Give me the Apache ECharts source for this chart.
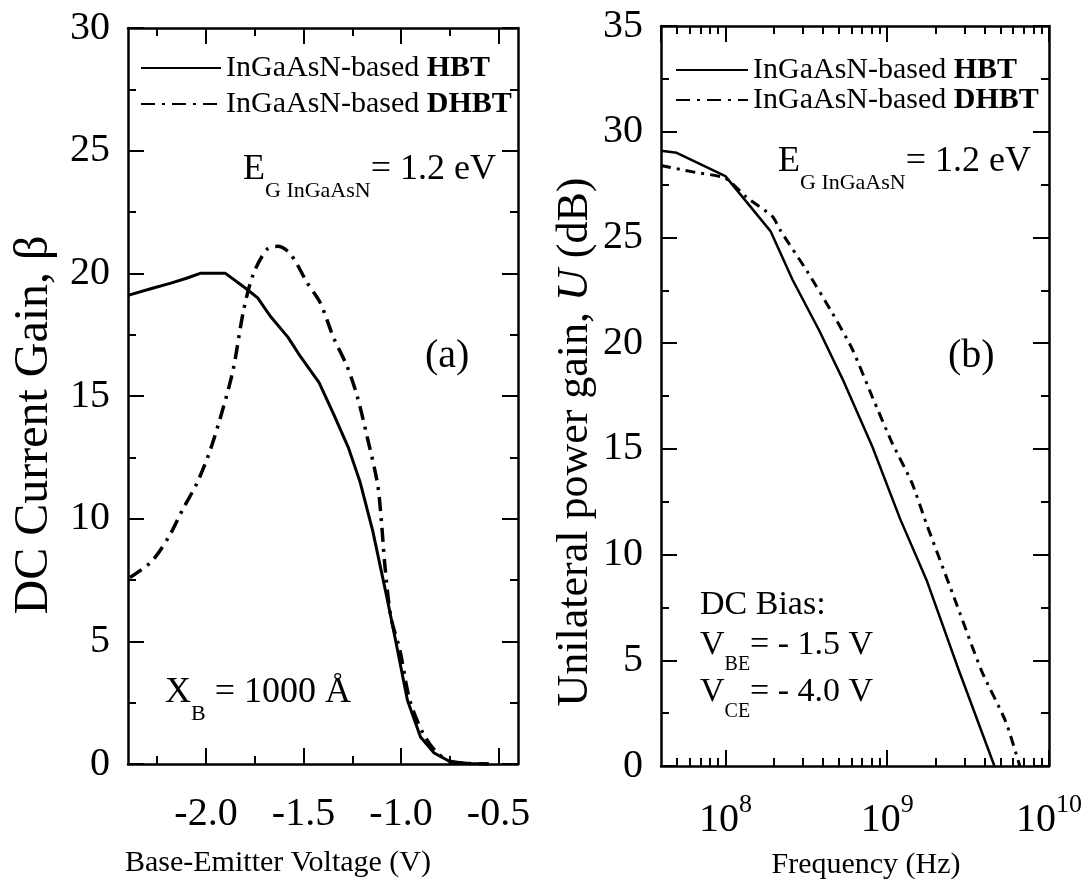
<!DOCTYPE html>
<html><head><meta charset="utf-8">
<script src="https://cdn.jsdelivr.net/npm/echarts@6/dist/echarts.min.js"></script>
<style>html,body{margin:0;padding:0;background:#fff}#c{width:1091px;height:890px}</style>
</head><body><div id="c"></div>
<script>
const FONT = '"Liberation Serif","Times New Roman",serif';

// ---- Panel (a): DC current gain vs base-emitter voltage ----
const voltHBT = [-2.40,-2.27,-2.18,-2.10,-2.03,-1.90,-1.79,-1.735,-1.67,-1.58,-1.515,-1.42,-1.345,-1.27,-1.21,-1.145,-1.07,-1.018,-0.967,-0.90,-0.83,-0.75,-0.65,-0.55];
const betaHBT = [19.1,19.4,19.6,19.8,20.0,20.0,19.35,19.0,18.25,17.4,16.6,15.55,14.25,12.9,11.5,9.5,6.7,4.65,2.6,1.1,0.45,0.1,0.02,0];
const voltDHBT = [-2.39,-2.28,-2.19,-2.12,-2.045,-1.978,-1.91,-1.86,-1.807,-1.756,-1.685,-1.634,-1.568,-1.48,-1.414,-1.347,-1.276,-1.225,-1.174,-1.12,-1.10,-1.082,-1.052,-1.006,-0.955,-0.888,-0.82,-0.75,-0.65,-0.55];
const betaDHBT = [7.6,8.25,9.27,10.37,11.47,12.8,14.57,16.1,18.5,20.0,21.0,21.1,20.8,19.6,18.8,17.4,16.2,15.0,13.35,11.4,9.84,8.04,6.0,4.65,2.6,1.27,0.5,0.12,0.02,0];
const voltMajorTicks = [-2.0,-1.5,-1.0,-0.5];
const voltMinorTicks = [-2.25,-1.75,-1.25,-0.75];

// ---- Panel (b): unilateral power gain vs frequency ----
const freqHBT = [4e7,5e7,1e8,1.9e8,2.6e8,3.8e8,5.3e8,8.1e8,1.2e9,1.75e9,2.75e9,4.6e9];
const gainHBT = [29.1,29.0,27.9,25.3,23.0,20.6,18.3,15.1,11.7,8.8,4.6,0];
const freqDHBT = [4e7,6.3e7,1e8,1.35e8,1.95e8,2.2e8,3.2e8,4.6e8,6.1e8,8.1e8,1.07e9,1.42e9,1.74e9,2.7e9,3.83e9,5.4e9,6.6e9];
const gainDHBT = [28.4,28.1,27.8,26.9,26.0,25.3,23.4,21.4,19.7,17.45,15.3,13.4,11.5,7.6,4.5,2.1,0];
const freqMinorTicks = [5e7,6e7,7e7,8e7,9e7,2e8,3e8,4e8,5e8,6e8,7e8,8e8,9e8,2e9,3e9,4e9,5e9,6e9,7e9,8e9,9e9];

const NAME_HBT = 'InGaAsN-based HBT';
const NAME_DHBT = 'InGaAsN-based DHBT';

const zip = (a, b) => a.map((v, i) => [v, b[i]]);
const BLACK = '#000';
const lineW = 2.5;

function majorX(grid, pos, extra) {
  return Object.assign({
    gridIndex: grid, position: pos,
    axisLine: { show: true, onZero: false, lineStyle: { color: BLACK, width: lineW } },
    axisTick: { show: true, inside: true, length: 16, lineStyle: { color: BLACK, width: 2 } },
    axisLabel: { show: false },
    splitLine: { show: false }
  }, extra);
}
function minorX(grid, pos, extra) {
  return Object.assign({
    gridIndex: grid, position: pos,
    axisLine: { show: false, onZero: false },
    axisTick: { show: true, inside: true, length: 8, lineStyle: { color: BLACK, width: 2 } },
    axisLabel: { show: false },
    splitLine: { show: false }
  }, extra);
}
function yAx(grid, pos, max, extra) {
  return Object.assign({
    gridIndex: grid, type: 'value', position: pos, min: 0, max: max, interval: 5,
    axisLine: { show: true, onZero: false, lineStyle: { color: BLACK, width: lineW } },
    axisTick: { show: true, inside: true, length: 16, lineStyle: { color: BLACK, width: 2 } },
    minorTick: { show: true, splitNumber: 2, length: 8, lineStyle: { color: BLACK, width: 2 } },
    axisLabel: { show: false },
    splitLine: { show: false }
  }, extra);
}
const tickLabel = { show: true, color: BLACK, fontFamily: FONT, fontSize: 40 };
const logLabel = {
  show: true, margin: 26,
  formatter: function (v) {
    const l = Math.log10(v), e = Math.round(l);
    if (Math.abs(l - e) > 1e-6) return '';
    return '{b|10}{s|' + e + '}';
  },
  rich: {
    b: { fontFamily: FONT, fontSize: 40, color: BLACK, lineHeight: 48, verticalAlign: 'bottom' },
    s: { fontFamily: FONT, fontSize: 26, color: BLACK, lineHeight: 14, verticalAlign: 'top' }
  },
  showMinLabel: false
};
const titleStyle = { color: BLACK, fontFamily: FONT, fontSize: 30 };
const minorTickLog = { show: true, inside: true, length: 8, customValues: freqMinorTicks, lineStyle: { color: BLACK, width: 2 } };

const option = {
  backgroundColor: '#fff',
  animation: false,
  grid: [
    { left: 128, top: 28, width: 390, height: 736 },
    { left: 661, top: 26, width: 388, height: 740 }
  ],
  legend: [
    { orient: 'vertical', left: 135, top: 47, itemWidth: 80, itemHeight: 14, itemGap: 4, itemStyle: {opacity: 0},
      data: [NAME_HBT, NAME_DHBT],
      formatter: n => n.replace(/(D?HBT)$/, '{b|$1}'),
      textStyle: { color: BLACK, fontFamily: FONT, fontSize: 30, lineHeight: 32,
        rich: { b: { fontWeight: 'bold', fontFamily: FONT, fontSize: 30, color: BLACK, lineHeight: 32 } } } },
    { orient: 'vertical', left: 670, top: 50, itemWidth: 72, itemHeight: 14, itemGap: 0, itemStyle: {opacity: 0},
      data: [NAME_HBT, NAME_DHBT],
      formatter: n => n.replace(/(D?HBT)$/, '{b|$1}'),
      textStyle: { color: BLACK, fontFamily: FONT, fontSize: 30, lineHeight: 29,
        rich: { b: { fontWeight: 'bold', fontFamily: FONT, fontSize: 30, color: BLACK, lineHeight: 29 } } } }
  ],
  xAxis: [
    majorX(0, 'bottom', { type: 'value', min: -2.4, max: -0.4,
      axisTick: { show: true, inside: true, length: 16, customValues: voltMajorTicks, lineStyle: { color: BLACK, width: 2 } },
      axisLabel: Object.assign({}, tickLabel, { margin: 30, customValues: voltMajorTicks, formatter: v => v.toFixed(1) }),
      name: 'Base-Emitter Voltage (V)', nameLocation: 'middle', nameGap: 84,
      nameTextStyle: Object.assign({}, titleStyle, { padding: [0, 90, 0, 0] }) }),
    minorX(0, 'bottom', { type: 'value', min: -2.4, max: -0.4,
      axisTick: { show: true, inside: true, length: 8, customValues: voltMinorTicks, lineStyle: { color: BLACK, width: 2 } } }),
    majorX(0, 'top', { type: 'value', min: -2.4, max: -0.4,
      axisTick: { show: true, inside: true, length: 16, customValues: voltMajorTicks, lineStyle: { color: BLACK, width: 2 } } }),
    minorX(0, 'top', { type: 'value', min: -2.4, max: -0.4,
      axisTick: { show: true, inside: true, length: 8, customValues: voltMinorTicks, lineStyle: { color: BLACK, width: 2 } } }),

    majorX(1, 'bottom', { type: 'log', logBase: 10, min: 4e7, max: 1e10, axisLabel: logLabel,
      name: 'Frequency (Hz)', nameLocation: 'middle', nameGap: 84,
      nameTextStyle: Object.assign({}, titleStyle, { padding: [0, 0, 0, 22] }) }),
    minorX(1, 'bottom', { type: 'log', logBase: 10, min: 4e7, max: 1e10, axisTick: minorTickLog }),
    majorX(1, 'top', { type: 'log', logBase: 10, min: 4e7, max: 1e10 }),
    minorX(1, 'top', { type: 'log', logBase: 10, min: 4e7, max: 1e10, axisTick: minorTickLog })
  ],
  yAxis: [
    yAx(0, 'left', 30, { axisLabel: Object.assign({}, tickLabel, { margin: 18 }),
      name: 'DC Current Gain, β', nameLocation: 'middle', nameGap: 70, nameRotate: 90,
      nameTextStyle: Object.assign({}, titleStyle, { fontSize: 48, padding: [0, 58, 0, 0] }) }),
    yAx(0, 'right', 30),
    yAx(1, 'left', 35, { axisLabel: Object.assign({}, tickLabel, { margin: 18 }),
      name: 'Unilateral power gain, {i|U} (dB)', nameLocation: 'middle', nameGap: 64, nameRotate: 90,
      nameTextStyle: Object.assign({}, titleStyle, { fontSize: 44, padding: [0, 92, 0, 0],
        rich: { i: { fontStyle: 'italic', fontFamily: FONT, fontSize: 44, color: BLACK } } }) }),
    yAx(1, 'right', 35)
  ],
  series: [
    { name: NAME_HBT, type: 'line', xAxisIndex: 0, yAxisIndex: 0, data: zip(voltHBT, betaHBT),
      symbol: 'none', lineStyle: { color: BLACK, width: 3, type: 'solid' }, itemStyle: { color: BLACK } },
    { name: NAME_DHBT, type: 'line', xAxisIndex: 0, yAxisIndex: 0, data: zip(voltDHBT, betaDHBT), smooth: 0.3,
      symbol: 'none', lineStyle: { color: BLACK, width: 3.5, type: [14, 7, 3, 7] }, itemStyle: { color: BLACK } },
    { name: NAME_HBT, type: 'line', xAxisIndex: 4, yAxisIndex: 2, data: zip(freqHBT, gainHBT),
      symbol: 'none', lineStyle: { color: BLACK, width: 2.5, type: 'solid' }, itemStyle: { color: BLACK } },
    { name: NAME_DHBT, type: 'line', xAxisIndex: 4, yAxisIndex: 2, data: zip(freqDHBT, gainDHBT), smooth: 0.2,
      symbol: 'none', lineStyle: { color: BLACK, width: 3, type: [10, 6, 3, 6] }, itemStyle: { color: BLACK } }
  ],
  graphic: [
    { type: 'text', x: 243, y: 152, style: { text: '{a|E}{s|G InGaAsN}{a|= 1.2 eV}', verticalAlign: 'top',
      rich: { a: { fontFamily: FONT, fontSize: 36, fill: BLACK, lineHeight: 40, verticalAlign: 'top' },
              s: { fontFamily: FONT, fontSize: 22, fill: BLACK, lineHeight: 22, verticalAlign: 'top', padding: [28, 0, 0, 0] } } } },
    { type: 'text', x: 778, y: 144, style: { text: '{a|E}{s|G InGaAsN}{a|= 1.2 eV}', verticalAlign: 'top',
      rich: { a: { fontFamily: FONT, fontSize: 36, fill: BLACK, lineHeight: 40, verticalAlign: 'top' },
              s: { fontFamily: FONT, fontSize: 22, fill: BLACK, lineHeight: 22, verticalAlign: 'top', padding: [28, 0, 0, 0] } } } },
    { type: 'text', x: 425, y: 336, style: { text: '(a)', fontFamily: FONT, fontSize: 40, fill: BLACK, verticalAlign: 'top' } },
    { type: 'text', x: 948, y: 336, style: { text: '(b)', fontFamily: FONT, fontSize: 40, fill: BLACK, verticalAlign: 'top' } },
    { type: 'text', x: 165, y: 675, style: { text: '{a|X}{s|B}{a| = 1000 Å}', verticalAlign: 'top',
      rich: { a: { fontFamily: FONT, fontSize: 36, fill: BLACK, lineHeight: 40, verticalAlign: 'top' },
              s: { fontFamily: FONT, fontSize: 22, fill: BLACK, lineHeight: 22, verticalAlign: 'top', padding: [28, 0, 0, 0] } } } },
    { type: 'text', x: 700, y: 588, style: { text: 'DC Bias:', fontFamily: FONT, fontSize: 34, fill: BLACK, verticalAlign: 'top' } },
    { type: 'text', x: 700, y: 628, style: { text: '{a|V}{s|BE}{a|= - 1.5 V}', verticalAlign: 'top',
      rich: { a: { fontFamily: FONT, fontSize: 34, fill: BLACK, lineHeight: 38, verticalAlign: 'top' },
              s: { fontFamily: FONT, fontSize: 20, fill: BLACK, lineHeight: 20, verticalAlign: 'top', padding: [27, 0, 0, 0] } } } },
    { type: 'text', x: 700, y: 675, style: { text: '{a|V}{s|CE}{a|= - 4.0 V}', verticalAlign: 'top',
      rich: { a: { fontFamily: FONT, fontSize: 34, fill: BLACK, lineHeight: 38, verticalAlign: 'top' },
              s: { fontFamily: FONT, fontSize: 20, fill: BLACK, lineHeight: 20, verticalAlign: 'top', padding: [27, 0, 0, 0] } } } }
  ]
};
const chart = echarts.init(document.getElementById('c'), null, { renderer: 'canvas' });
chart.setOption(option);
</script></body></html>
